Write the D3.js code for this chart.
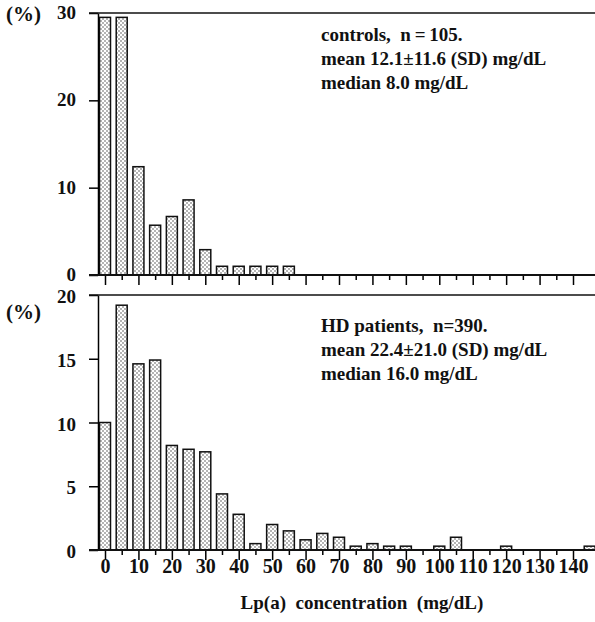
<!DOCTYPE html>
<html>
<head>
<meta charset="utf-8">
<script src="https://cdn.jsdelivr.net/npm/d3@7"></script>
<style>
  body { margin: 0; background: #fff; }
  text { font-family: "Liberation Serif", "DejaVu Serif", serif; font-weight: bold; fill: #111; white-space: pre; }
</style>
</head>
<body>
<script>
// Lp(a) bins (mg/dL), bar at left edge of each 5 mg/dL class
const bins = d3.range(0, 150, 5);
// percentage of subjects, controls (n=105)
const controlsPct = [29.5, 29.5, 12.4, 5.7, 6.7, 8.6, 2.9, 1.0, 1.0, 1.0, 1.0, 1.0,
                     0, 0, 0, 0, 0, 0, 0, 0, 0, 0, 0, 0, 0, 0, 0, 0, 0, 0];
// percentage of subjects, HD patients (n=390)
const patientsPct = [10.0, 19.2, 14.6, 14.9, 8.2, 7.9, 7.7, 4.4, 2.8, 0.5, 2.0, 1.5,
                     0.8, 1.3, 1.0, 0.3, 0.5, 0.3, 0.3, 0, 0.3, 1.0, 0, 0, 0.3, 0, 0, 0, 0, 0.3];
const topTicks = [0, 10, 20, 30];
const bottomTicks = [0, 5, 10, 15, 20];
const xTicks = d3.range(0, 145, 5);
const topNotes = ["controls,  n\u2009=\u2009105.", "mean 12.1\u00b111.6 (SD) mg/dL", "median 8.0 mg/dL"];
const bottomNotes = ["HD patients,  n=390.", "mean 22.4\u00b121.0 (SD) mg/dL", "median 16.0 mg/dL"];
const xTitle = "Lp(a)\u2002concentration\u2002(mg/dL)";

const W = 595, H = 622;
const svg = d3.select("body").append("svg").attr("width", W).attr("height", H);

// dotted fill like the printed screen tone
const pat = svg.append("defs").append("pattern")
    .attr("id", "dots").attr("patternUnits", "userSpaceOnUse")
    .attr("width", 4).attr("height", 4);
pat.append("rect").attr("width", 4).attr("height", 4).attr("fill", "#fff");
pat.append("circle").attr("cx", 1).attr("cy", 1).attr("r", 0.75).attr("fill", "#444");
pat.append("circle").attr("cx", 3).attr("cy", 3).attr("r", 0.75).attr("fill", "#444");

const x = d3.scaleLinear().domain([0, 140]).range([105, 573]);
const barW = 11;

function panel(values, yScale, yTicks, notes, showXLabels, pctY, noteY, labelNudge) {
    const g = svg.append("g");
    const y0 = yScale(0), yTop = yScale.range()[1];

    g.selectAll("rect.bar")
        .data(bins.map((b, i) => ({ b, v: values[i] })).filter(d => d.v > 0))
        .join("rect")
        .attr("class", "bar")
        .attr("x", d => x(d.b) - barW / 2)
        .attr("width", barW)
        .attr("y", d => yScale(d.v))
        .attr("height", d => y0 - yScale(d.v))
        .attr("fill", "url(#dots)")
        .attr("stroke", "#111")
        .attr("stroke-width", 1.5);

    // y axis
    const ya = g.append("g").attr("transform", `translate(${x.range()[0] - 7},0)`)
        .call(d3.axisLeft(yScale).tickValues(yTicks).tickSize(9).tickPadding(13).tickSizeOuter(0));
    ya.select(".domain").attr("stroke-width", 1.5);
    ya.selectAll(".tick line").attr("stroke-width", 1.5);
    ya.selectAll("text").style("font-size", "19px").attr("dy", "0.35em")
        .attr("y", labelNudge);

    // x axis
    const xa = g.append("g").attr("transform", `translate(0,${y0})`)
        .call(d3.axisBottom(x).tickValues(xTicks).tickSize(0).tickFormat(""));
    xa.select(".domain").remove();
    xa.selectAll(".tick line")
        .attr("y2", d => d % 10 === 0 ? 10 : 5)
        .attr("stroke-width", 1.5);
    if (showXLabels) {
        xa.selectAll(".tick").filter(d => d % 10 === 0).append("text")
            .attr("y", 23).attr("text-anchor", "middle")
            .style("font-size", "20px")
            .text(d => d);
    }

    // base and top frame lines
    g.append("line").attr("x1", 89).attr("x2", W).attr("y1", y0).attr("y2", y0)
        .attr("stroke", "#111").attr("stroke-width", 2);
    g.append("line").attr("x1", 89).attr("x2", W).attr("y1", yTop).attr("y2", yTop)
        .attr("stroke", "#111").attr("stroke-width", 1.5);

    g.append("text").attr("x", 6).attr("y", pctY).style("font-size", "21px").text("(%)");

    g.append("g").selectAll("text").data(notes).join("text")
        .attr("x", 321).attr("y", (d, i) => noteY + i * 24)
        .style("font-size", "19px")
        .text(d => d);
}

panel(controlsPct, d3.scaleLinear().domain([0, 30]).range([275, 13]), topTicks, topNotes, false, 21, 41, -1);
panel(patientsPct, d3.scaleLinear().domain([0, 20]).range([550, 295]), bottomTicks, bottomNotes, true, 319, 332, 1);

svg.append("text").attr("x", 362).attr("y", 609).attr("text-anchor", "middle")
    .style("font-size", "19px").text(xTitle);
</script>
</body>
</html>
